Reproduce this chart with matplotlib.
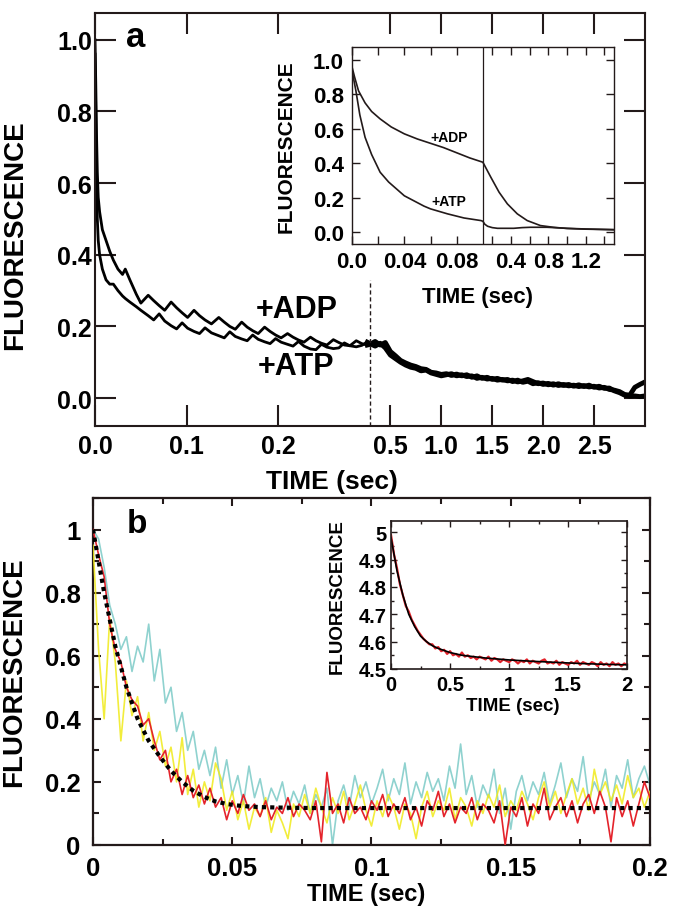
import numpy as np
import matplotlib
matplotlib.use("Agg")
import matplotlib.pyplot as plt
from matplotlib import ticker

plt.rcParams["font.family"] = ["Liberation Sans", "DejaVu Sans"]
plt.rcParams["font.weight"] = "bold"

INK = "#231a1a"

# ---------------- panel a: main traces ----------------
a_break = 0.3
a_end = 3.0
a_t_early = [0, 0.0008, 0.0016, 0.0025, 0.0035, 0.005, 0.008, 0.012, 0.016, 0.020,
             0.025, 0.030, 0.033, 0.038, 0.045, 0.050, 0.058, 0.064, 0.070, 0.076,
             0.083, 0.089, 0.095, 0.101, 0.108, 0.114, 0.120, 0.127, 0.135, 0.141,
             0.147, 0.153, 0.160, 0.166, 0.172, 0.178, 0.185, 0.191, 0.197, 0.203,
             0.210, 0.216, 0.222, 0.228, 0.235, 0.241, 0.247, 0.253, 0.260, 0.266,
             0.272, 0.278, 0.285, 0.291, 0.297]
a_adp_early = [1.00, 0.88, 0.74, 0.63, 0.56, 0.52, 0.47, 0.44, 0.41, 0.385,
               0.36, 0.345, 0.36, 0.33, 0.29, 0.265, 0.287, 0.272, 0.258, 0.245,
               0.268, 0.252, 0.238, 0.225, 0.245, 0.23, 0.218, 0.207, 0.225, 0.212,
               0.200, 0.192, 0.212, 0.198, 0.188, 0.180, 0.198, 0.186, 0.176, 0.168,
               0.180, 0.170, 0.162, 0.156, 0.170, 0.160, 0.153, 0.148, 0.163, 0.155,
               0.148, 0.146, 0.160, 0.152, 0.148]
a_atp_early = [0.96, 0.80, 0.62, 0.50, 0.44, 0.40, 0.36, 0.33, 0.318, 0.318,
               0.30, 0.285, 0.278, 0.268, 0.255, 0.245, 0.230, 0.218, 0.235, 0.215,
               0.202, 0.193, 0.210, 0.195, 0.186, 0.180, 0.196, 0.182, 0.174, 0.168,
               0.185, 0.172, 0.165, 0.160, 0.176, 0.164, 0.157, 0.152, 0.166, 0.156,
               0.150, 0.145, 0.158, 0.145, 0.137, 0.135, 0.150, 0.142, 0.138, 0.140,
               0.154, 0.146, 0.143, 0.147, 0.156]
a_t_late = np.arange(55) * 0.05 + 0.30
a_adp_late = [0.150, 0.158, 0.148, 0.155, 0.130, 0.118, 0.105, 0.098, 0.092, 0.088,
              0.082, 0.080, 0.072, 0.070, 0.066, 0.068, 0.063, 0.067, 0.062, 0.065,
              0.058, 0.062, 0.055, 0.058, 0.052, 0.055, 0.050, 0.052, 0.046, 0.050,
              0.044, 0.047, 0.040, 0.043, 0.038, 0.041, 0.036, 0.040, 0.035, 0.038,
              0.033, 0.037, 0.032, 0.036, 0.030, 0.033, 0.027, 0.028, 0.020, 0.015,
              0.008, 0.005, 0.006, 0.004, 0.006]
a_atp_late = [0.152, 0.145, 0.153, 0.140, 0.120, 0.110, 0.100, 0.092, 0.086, 0.083,
              0.076, 0.078, 0.070, 0.066, 0.062, 0.065, 0.068, 0.062, 0.065, 0.060,
              0.062, 0.055, 0.058, 0.053, 0.055, 0.050, 0.052, 0.048, 0.050, 0.045,
              0.048, 0.052, 0.046, 0.040, 0.042, 0.037, 0.040, 0.035, 0.038, 0.034,
              0.036, 0.032, 0.035, 0.031, 0.033, 0.028, 0.030, 0.024, 0.022, 0.018,
              0.010, 0.008, 0.030, 0.038, 0.045]
a_dash_top = 0.33

# ---------------- panel a: inset ----------------
ia_break = 0.1
ia_end = 1.5
ia_adp_t = [0, 0.002, 0.005, 0.01, 0.015, 0.0215, 0.03, 0.04, 0.05, 0.06, 0.07, 0.08,
            0.09, 0.1, 0.185, 0.273, 0.362, 0.468, 0.574, 0.715, 0.853, 1.0, 1.2, 1.5]
ia_adp_f = [0.96, 0.90, 0.82, 0.75, 0.70, 0.657, 0.61, 0.57, 0.54, 0.515, 0.49, 0.46,
            0.43, 0.405, 0.318, 0.231, 0.163, 0.105, 0.066, 0.037, 0.027, 0.02, 0.016, 0.013]
ia_atp_t = [0, 0.003, 0.006, 0.01, 0.015, 0.0215, 0.028, 0.034, 0.04, 0.047, 0.055, 0.06,
            0.073, 0.0856, 0.0985, 0.1, 0.12, 0.15, 0.2, 0.256, 0.43, 0.52, 0.61, 0.786,
            1.0, 1.2, 1.5]
ia_atp_f = [0.94, 0.82, 0.68, 0.55, 0.45, 0.347, 0.29, 0.25, 0.21, 0.182, 0.15, 0.134,
            0.105, 0.081, 0.066, 0.062, 0.045, 0.033, 0.025, 0.021, 0.021, 0.025, 0.027,
            0.027, 0.021, 0.017, 0.013]

# ---------------- panel b: main traces ----------------
b_dt = 0.002
b_red = [1.00, 0.92, 0.85, 0.70, 0.62, 0.58, 0.50, 0.46, 0.44, 0.38,
         0.40, 0.33, 0.27, 0.30, 0.20, 0.24, 0.16, 0.22, 0.15, 0.19,
         0.13, 0.18, 0.12, 0.15, 0.08, 0.14, 0.10, 0.16, 0.11, 0.13,
         0.09, 0.14, 0.08, 0.12, 0.10, 0.15, 0.09, 0.13, 0.11, 0.08,
         0.14, 0.01, 0.23, 0.10, 0.13, 0.07, 0.15, 0.10, 0.12, 0.08,
         0.14, 0.11, 0.16, 0.09, 0.13, 0.10, 0.15, 0.08, 0.12, 0.06,
         0.14, 0.11, 0.17, 0.09, 0.13, 0.07, 0.12, 0.10, 0.15, 0.08,
         0.13, 0.11, 0.07, 0.14, 0.00, 0.12, 0.09, 0.15, 0.06, 0.13,
         0.10, 0.18, 0.08, 0.12, 0.15, 0.09, 0.14, 0.07, 0.13, 0.16,
         0.10, 0.17, 0.12, 0.01, 0.15, 0.09, 0.14, 0.06, 0.13, 0.20,
         0.15]
b_yellow = [0.95, 0.62, 0.40, 0.72, 0.58, 0.33, 0.52, 0.41, 0.47, 0.33,
            0.42, 0.30, 0.36, 0.25, 0.31, 0.20, 0.34, 0.16, 0.24, 0.12,
            0.20, 0.14, 0.26, 0.21, 0.11, 0.17, 0.08, 0.14, 0.05, 0.12,
            0.09, 0.15, 0.04, 0.11, 0.07, 0.02, 0.13, 0.09, 0.16, 0.10,
            0.18, 0.12, 0.07, 0.15, 0.10, 0.17, 0.08, 0.13, 0.19, 0.11,
            0.06, 0.14, 0.09, 0.16, 0.12, 0.05, 0.13, 0.10, 0.02, 0.12,
            0.17, 0.09, 0.14, 0.11, 0.18, 0.08, 0.15, 0.12, 0.06, 0.14,
            0.10, 0.16, 0.12, 0.19, 0.09, 0.14, 0.11, 0.17, 0.13, 0.08,
            0.15, 0.20, 0.12, 0.17, 0.10, 0.16, 0.21, 0.13, 0.18, 0.11,
            0.24, 0.16, 0.20, 0.14, 0.19, 0.13, 0.22, 0.15, 0.18, 0.12,
            0.17]
b_cyan = [1.00, 0.97, 0.88, 0.76, 0.70, 0.62, 0.66, 0.55, 0.63, 0.58,
          0.70, 0.52, 0.62, 0.45, 0.50, 0.36, 0.42, 0.30, 0.36, 0.24,
          0.30, 0.22, 0.31, 0.18, 0.27, 0.16, 0.22, 0.13, 0.25, 0.15,
          0.21, 0.12, 0.18, 0.14, 0.20, 0.11, 0.17, 0.13, 0.19, 0.10,
          0.16, 0.12, 0.18, 0.00, 0.14, 0.19, 0.12, 0.22, 0.15, 0.20,
          0.13, 0.18, 0.24, 0.14, 0.21, 0.16, 0.26, 0.13, 0.20, 0.15,
          0.23, 0.17, 0.21, 0.14, 0.25, 0.18, 0.32, 0.16, 0.22, 0.12,
          0.19, 0.15, 0.24, 0.10, 0.18, 0.05, 0.17, 0.22, 0.14, 0.20,
          0.16, 0.23, 0.13, 0.19, 0.26, 0.15, 0.21, 0.17, 0.28, 0.14,
          0.20, 0.16, 0.24, 0.12, 0.22, 0.18, 0.27, 0.15, 0.21, 0.25,
          0.19]
b_fit_t = [0, 0.004, 0.008, 0.012, 0.016, 0.020, 0.024, 0.028, 0.032, 0.036,
           0.040, 0.044, 0.048, 0.052, 0.056, 0.060, 0.070, 0.080, 0.100, 0.120,
           0.140, 0.160, 0.180, 0.200]
b_fit_f = [1.0, 0.80, 0.63, 0.50, 0.40, 0.33, 0.28, 0.235, 0.20, 0.172,
           0.152, 0.138, 0.130, 0.125, 0.122, 0.120, 0.118, 0.117, 0.117, 0.117,
           0.117, 0.117, 0.117, 0.117]

# ---------------- panel b: inset ----------------
ib_dt = 0.025
ib_red = [4.99, 4.92, 4.87, 4.81, 4.77, 4.73, 4.71, 4.68, 4.66, 4.64,
          4.625, 4.61, 4.60, 4.59, 4.59, 4.575, 4.58, 4.565, 4.57, 4.555,
          4.565, 4.55, 4.555, 4.545, 4.56, 4.545, 4.55, 4.54, 4.545, 4.535,
          4.545, 4.54, 4.535, 4.545, 4.53, 4.54, 4.535, 4.525, 4.535, 4.53,
          4.525, 4.535, 4.53, 4.52, 4.53, 4.525, 4.535, 4.52, 4.53, 4.525,
          4.52, 4.53, 4.535, 4.52, 4.525, 4.52, 4.53, 4.515, 4.525, 4.52,
          4.515, 4.525, 4.52, 4.53, 4.515, 4.525, 4.52, 4.515, 4.525, 4.52,
          4.51, 4.525, 4.515, 4.52, 4.51, 4.525, 4.515, 4.52, 4.51, 4.52,
          4.515]
ib_fit_t = [0, 0.05, 0.1, 0.15, 0.2, 0.25, 0.3, 0.35, 0.4, 0.5, 0.6, 0.7, 0.8,
            1.0, 1.2, 1.4, 1.6, 1.8, 2.0]
ib_fit_f = [4.98, 4.86, 4.77, 4.70, 4.655, 4.62, 4.60, 4.585, 4.575, 4.56, 4.55,
            4.545, 4.54, 4.533, 4.528, 4.524, 4.52, 4.517, 4.515]


def split_scale(brk, end):
    """piecewise linear time axis: [0, brk] and [brk, end] get equal width"""
    def fwd(t):
        t = np.asarray(t, dtype=float)
        return np.where(t <= brk, t / brk, 1 + (t - brk) / (end - brk))

    def inv(u):
        u = np.asarray(u, dtype=float)
        return np.where(u <= 1, u * brk, brk + (u - 1) * (end - brk))
    return fwd, inv


def style_spines(ax, lw):
    for s in ax.spines.values():
        s.set_linewidth(lw)
        s.set_color(INK)


fig = plt.figure(figsize=(6.73, 9.12), dpi=100)

# ---- panel a ----
ax_a = fig.add_axes([0.1412, 0.5318, 0.8172, 0.4529])
ax_a.set_xscale("function", functions=split_scale(a_break, a_end))
ax_a.plot(a_t_early, a_adp_early, color="black", lw=2.0)
ax_a.plot(a_t_early, a_atp_early, color="black", lw=2.0)
# after the break the two traces form one thick noisy band
ax_a.plot(np.concatenate([[a_t_early[-1]], a_t_late]), [a_adp_early[-1]] + a_adp_late,
          color="black", lw=3.5)
ax_a.plot(np.concatenate([[a_t_early[-1]], a_t_late]), [a_atp_early[-1]] + a_atp_late,
          color="black", lw=3.5)
ax_a.vlines(a_break, -0.078, a_dash_top, color=INK, lw=1.0, linestyles=(0, (3, 2)))
ax_a.set_xlim(0, a_end)
ax_a.set_ylim(-0.078, 1.075)
a_xt = [0, 0.1, 0.2, 0.5, 1.0, 1.5, 2.0, 2.5]
ax_a.set_xticks(a_xt, ["%.1f" % v for v in a_xt])
ax_a.xaxis.set_minor_locator(ticker.NullLocator())
a_yt = [0, 0.2, 0.4, 0.6, 0.8, 1.0]
ax_a.set_yticks(a_yt, ["%.1f" % v for v in a_yt])
ax_a.tick_params(direction="in", length=15, width=1.5, color=INK, top=True, right=True,
                 labelsize=18)
ax_a.tick_params(axis="y", pad=2)
ax_a.tick_params(axis="x", pad=6)
style_spines(ax_a, 1.5)
ax_a.set_xlabel("TIME (sec)", fontsize=19, fontweight="bold")
ax_a.xaxis.set_label_coords(0.43, -0.105)
ax_a.set_ylabel("FLUORESCENCE", fontsize=20, fontweight="bold")
ax_a.yaxis.set_label_coords(-0.122, 0.465)
ax_a.text(0.073, 0.942, "a", transform=ax_a.transAxes, fontsize=25, fontweight="bold",
          ha="center", va="center")
ax_a.text(0.2196, 0.249, "+ADP", fontsize=22, fontweight="bold", ha="center", va="center")
ax_a.text(0.2196, 0.09, "+ATP", fontsize=22, fontweight="bold", ha="center", va="center")

# ---- panel a inset ----
ax_ia = fig.add_axes([0.523, 0.7314, 0.389, 0.216])
ax_ia.set_xscale("function", functions=split_scale(ia_break, ia_end))
ax_ia.plot(ia_adp_t, ia_adp_f, color=INK, lw=1.2)
ax_ia.plot(ia_atp_t, ia_atp_f, color=INK, lw=1.2)
ax_ia.axvline(ia_break, color=INK, lw=0.9)
ax_ia.set_xlim(0, ia_end)
ax_ia.set_ylim(-0.07, 1.075)
ia_xt = [0, 0.02, 0.04, 0.06, 0.08, 0.2, 0.4, 0.6, 0.8, 1.0, 1.2, 1.4]
ia_lab = {0: "0.0", 0.04: "0.04", 0.08: "0.08", 0.4: "0.4", 0.8: "0.8", 1.2: "1.2"}
ax_ia.set_xticks(ia_xt, [ia_lab.get(v, "") for v in ia_xt])
ax_ia.xaxis.set_minor_locator(ticker.NullLocator())
ax_ia.set_yticks(a_yt, ["%.1f" % v for v in a_yt])
ax_ia.tick_params(direction="in", length=6, width=1.0, color=INK, top=True, right=True,
                  labelsize=16)
ax_ia.tick_params(axis="y", pad=6)
ax_ia.tick_params(axis="x", pad=5)
style_spines(ax_ia, 1.0)
ax_ia.set_xlabel("TIME (sec)", fontsize=16, fontweight="bold")
ax_ia.xaxis.set_label_coords(0.48, -0.213)
ax_ia.set_ylabel("FLUORESCENCE", fontsize=15, fontweight="bold")
ax_ia.yaxis.set_label_coords(-0.214, 0.5)
ax_ia.text(0.074, 0.55, "+ADP", fontsize=10, fontweight="bold", ha="center", va="center")
ax_ia.text(0.074, 0.18, "+ATP", fontsize=10, fontweight="bold", ha="center", va="center")

# ---- panel b ----
ax_b = fig.add_axes([0.1382, 0.0724, 0.8276, 0.3805])
t_b = np.arange(len(b_red)) * b_dt
ax_b.plot(t_b, b_cyan, color="#8fd2cf", lw=1.2, zorder=2)
ax_b.plot(t_b, b_yellow, color="#f0ea1a", lw=1.2, alpha=0.85, zorder=3)
ax_b.plot(t_b, b_red, color="#e4232b", lw=1.2, zorder=4)
ax_b.plot(b_fit_t, b_fit_f, color="black", lw=3.0, ls=(0, (1, 1)), zorder=5)
ax_b.set_xlim(0, 0.2)
ax_b.set_ylim(0, 1.1)
ax_b.xaxis.set_major_locator(ticker.MultipleLocator(0.05))
ax_b.xaxis.set_minor_locator(ticker.MultipleLocator(0.025))
ax_b.yaxis.set_major_locator(ticker.FixedLocator([0, 0.2, 0.4, 0.6, 0.8, 1.0]))
ax_b.yaxis.set_minor_locator(ticker.MultipleLocator(0.1))
ax_b.xaxis.set_major_formatter(ticker.FormatStrFormatter("%g"))
ax_b.yaxis.set_major_formatter(ticker.FormatStrFormatter("%g"))
ax_b.tick_params(which="both", direction="in", color=INK, top=True, right=True,
                 labelsize=18.5)
ax_b.tick_params(which="major", length=6, width=1.5)
ax_b.tick_params(which="minor", length=4.5, width=1.5)
ax_b.tick_params(axis="y", pad=9)
ax_b.tick_params(axis="x", pad=8)
style_spines(ax_b, 1.6)
ax_b.set_xlabel("TIME (sec)", fontsize=17, fontweight="bold")
ax_b.xaxis.set_label_coords(0.49, -0.108)
ax_b.set_ylabel("FLUORESCENCE", fontsize=20, fontweight="bold")
ax_b.yaxis.set_label_coords(-0.118, 0.5)
ax_b.text(0.079, 0.925, "b", transform=ax_b.transAxes, fontsize=24, fontweight="bold",
          ha="center", va="center")

# ---- panel b inset ----
ax_ib = fig.add_axes([0.581, 0.2654, 0.351, 0.162])
t_ib = np.arange(len(ib_red)) * ib_dt
ax_ib.plot(t_ib, ib_red, color="#e4232b", lw=1.6)
ax_ib.plot(ib_fit_t, ib_fit_f, color="black", lw=1.2)
ax_ib.set_xlim(0, 2)
ax_ib.set_ylim(4.5, 5.04)
ax_ib.xaxis.set_major_locator(ticker.MultipleLocator(0.5))
ax_ib.xaxis.set_minor_locator(ticker.MultipleLocator(0.25))
ax_ib.yaxis.set_major_locator(ticker.MultipleLocator(0.1))
ax_ib.yaxis.set_minor_locator(ticker.MultipleLocator(0.05))
ax_ib.xaxis.set_major_formatter(ticker.FormatStrFormatter("%g"))
ax_ib.yaxis.set_major_formatter(ticker.FormatStrFormatter("%g"))
ax_ib.tick_params(which="both", direction="in", color=INK, top=True, right=True,
                  labelsize=14.5, width=1.0)
ax_ib.tick_params(which="major", length=4)
ax_ib.tick_params(which="minor", length=2.5)
ax_ib.tick_params(axis="y", pad=3)
ax_ib.tick_params(axis="x", pad=4)
style_spines(ax_ib, 1.2)
ax_ib.set_xlabel("TIME (sec)", fontsize=13.5, fontweight="bold")
ax_ib.xaxis.set_label_coords(0.516, -0.19)
ax_ib.set_ylabel("FLUORESCENCE", fontsize=13.5, fontweight="bold")
ax_ib.yaxis.set_label_coords(-0.19, 0.5)

fig.savefig("out.png", dpi=100)
